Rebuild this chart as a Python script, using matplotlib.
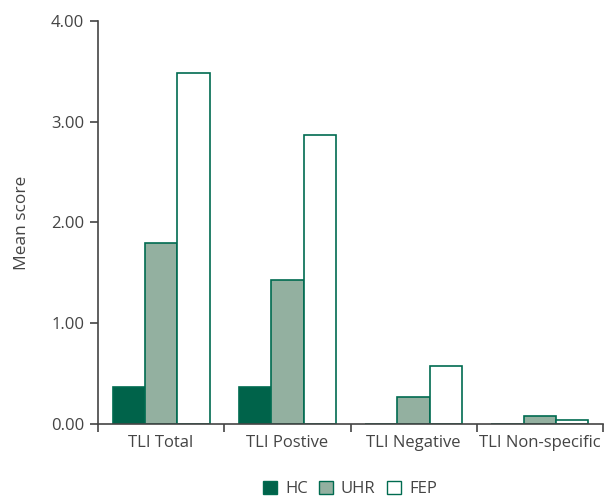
import matplotlib
matplotlib.use("Agg")
import matplotlib.pyplot as plt
import numpy as np
from matplotlib.patches import Patch

categories = ["TLI Total", "TLI Postive", "TLI Negative", "TLI Non-specific"]
groups = ["HC", "UHR", "FEP"]
hc = [0.37, 0.37, 0.0, 0.0]
uhr = [1.80, 1.43, 0.27, 0.08]
fep = [3.48, 2.87, 0.575, 0.035]
yticks = [0.0, 1.0, 2.0, 3.0, 4.0]

plt.rcParams['font.family'] = ['Open Sans', 'DejaVu Sans']
dark = "#00634a"
mid = "#93b0a0"
edge = "#006b50"
txt = "#444444"

fig = plt.figure(figsize=(6.05, 4.99), dpi=100)
ax = fig.add_axes([98/605, 1-424/499, 505/605, (424-21)/499])

x = np.arange(len(categories))
w = 0.256
ax.bar(x - w, hc, w, color=dark, edgecolor=edge, linewidth=1.2, label=groups[0])
ax.bar(x, uhr, w, color=mid, edgecolor=edge, linewidth=1.2, label=groups[1])
ax.bar(x + w, fep, w, color="white", edgecolor=edge, linewidth=1.2, label=groups[2])

ax.set_xlim(-0.5, len(categories) - 0.5)
ax.set_ylim(0, 4)
ax.set_yticks(yticks)
ax.set_yticklabels([f"{v:.2f}" for v in yticks], fontsize=12, color=txt)
ax.set_xticks(np.arange(len(categories) + 1) - 0.5)
ax.set_xticklabels([])
ax.set_xticks(x, minor=True)
ax.set_xticklabels(categories, minor=True, fontsize=12, color=txt)
ax.tick_params(axis='x', which='minor', length=0, pad=8)
ax.tick_params(axis='x', which='major', length=6, color=txt, width=1.2)
ax.tick_params(axis='y', length=6, color=txt, width=1.2, pad=4)
for s in ["top", "right"]:
    ax.spines[s].set_visible(False)
for s in ["left", "bottom"]:
    ax.spines[s].set_color(txt)
    ax.spines[s].set_linewidth(1.2)
ax.set_ylabel("Mean score", fontsize=12.5, color=txt, labelpad=15)

handles = [Patch(facecolor=dark, edgecolor=edge, label=groups[0]),
           Patch(facecolor=mid, edgecolor=edge, label=groups[1]),
           Patch(facecolor="white", edgecolor=edge, label=groups[2])]
leg = fig.legend(handles=handles, loc="lower center", bbox_to_anchor=(350/605, -0.026), ncol=3,
                 frameon=False, fontsize=12, handlelength=0.85, handleheight=0.85,
                 handletextpad=0.45, columnspacing=0.7)
for t in leg.get_texts():
    t.set_color(txt)

fig.savefig("out.png", dpi=100)
